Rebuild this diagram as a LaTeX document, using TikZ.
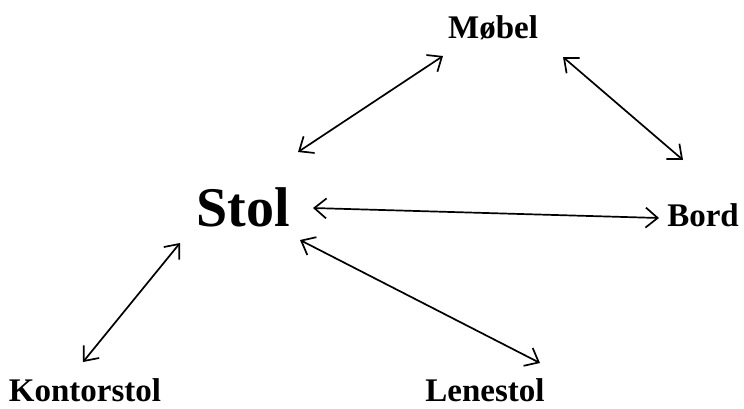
\documentclass[tikz,border=0pt]{standalone}
\usepackage{fontspec}
\setmainfont{Liberation Serif}
\usetikzlibrary{arrows.meta}
\begin{document}
\begin{tikzpicture}[x=1pt,y=-1pt,
  word/.style={font=\bfseries\fontsize{33}{36}\selectfont, inner sep=0pt, anchor=base},
  link/.style={line width=1.7pt,
    arrows={Straight Barb[length=12pt,width=20pt,line width=1.7pt]-Straight Barb[length=12pt,width=20pt,line width=1.7pt]}}]
  \useasboundingbox (0,0) rectangle (744,408);
  % words
  \node[word] (moebel) at (493,38) {Møbel};
  \node[word, font=\bfseries\fontsize{56}{60}\selectfont] (stol) at (243,226) {Stol};
  \node[word] (bord) at (703,226) {Bord};
  \node[word] (kontor) at (85,401) {Kontorstol};
  \node[word] (lene) at (485,401) {Lenestol};
  % arrow ends
  \coordinate (sm1) at (298,152); \coordinate (sm2) at (443,56);
  \coordinate (mb1) at (563,57);  \coordinate (mb2) at (683,160);
  \coordinate (sb1) at (313,208); \coordinate (sb2) at (659,218);
  \coordinate (sk1) at (180,243); \coordinate (sk2) at (83,362);
  \coordinate (sl1) at (300,240); \coordinate (sl2) at (540,363);
  \draw[link] (sm1) -- (sm2);
  \draw[link] (mb1) -- (mb2);
  \draw[link] (sb1) -- (sb2);
  \draw[link] (sk1) -- (sk2);
  \draw[link] (sl1) -- (sl2);
\end{tikzpicture}
\end{document}
